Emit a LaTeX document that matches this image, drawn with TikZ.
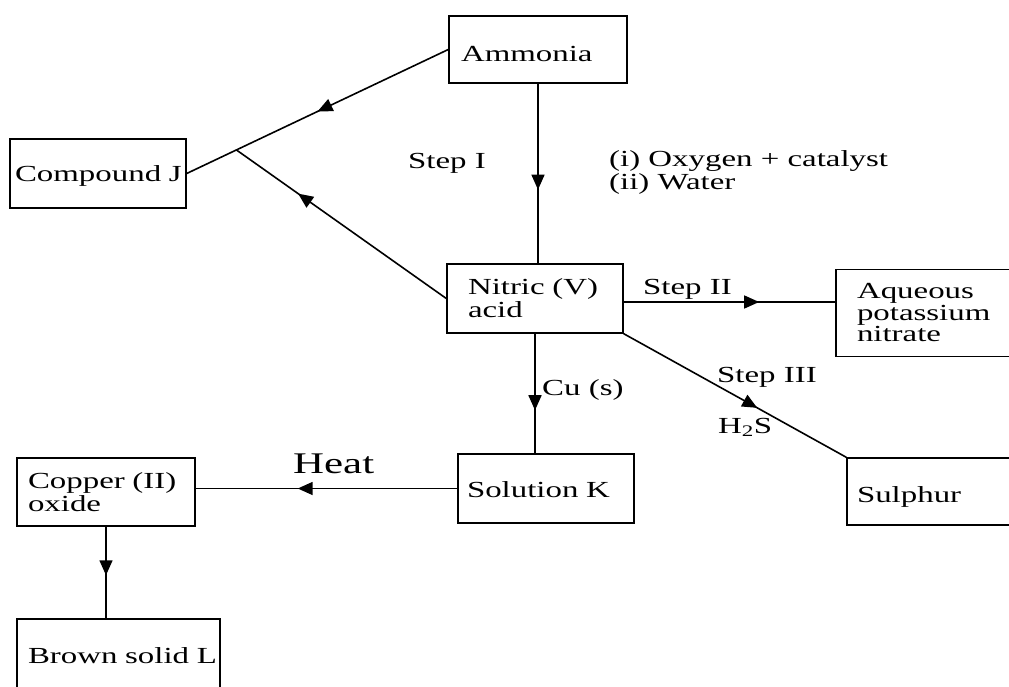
\documentclass[tikz,border=0pt]{standalone}
\usepackage{fontspec}
\setmainfont{Liberation Serif}[FakeStretch=1.43]
\usetikzlibrary{arrows.meta,decorations.markings}
\tikzset{
  box/.style={draw, line width=1.4pt, align=left, inner ysep=0pt},
  lbl/.style={inner sep=0pt},
  flow/.style={line width=1.6pt, postaction={decorate},
    decoration={markings, mark=at position #1 with {\arrow{Triangle[width=13pt,length=15pt]}}}}
}
\begin{document}
\begin{tikzpicture}[x=1pt, y=-1pt, font=\fontsize{23}{23}\selectfont]
\useasboundingbox (0,0) rectangle (1009,687);
% boxes
\node[box, minimum width=178pt, minimum height=67pt, inner xsep=12pt, text width=154pt, text height=30pt, text depth=5pt] (amm) at (538,49.5) {Ammonia};
\node[box, minimum width=176pt, minimum height=69pt, inner xsep=5pt, text width=166pt, text height=22pt, text depth=5pt] (cpdJ) at (98,173.5) {Compound~J};
\node[box, minimum width=176pt, minimum height=69pt, inner xsep=21pt, text width=134pt] (nitric) at (535,298.5) {Nitric (V)\\acid};
\node[box, minimum width=179pt, minimum height=87pt, inner xsep=21pt, text width=137pt, font=\fontsize{23}{21.5}\selectfont] (aqueous) at (925.5,313) {Aqueous\\potassium\\nitrate};
\node[box, minimum width=176pt, minimum height=69pt, inner xsep=9pt, text width=158pt, text height=22pt, text depth=5pt] (solK) at (546,488.5) {Solution~K};
\node[box, minimum width=168pt, minimum height=67pt, inner xsep=10pt, text width=148pt, text height=26pt, text depth=5pt] (sulphur) at (931,491.5) {Sulphur};
\node[box, minimum width=178pt, minimum height=68pt, inner xsep=11pt, text width=156pt] (copper) at (106,492) {Copper (II)\\oxide};
\node[box, minimum width=203pt, minimum height=76pt, inner xsep=11pt, text width=181pt, text height=17pt, text depth=5pt] (brown) at (118.5,657) {Brown~solid~L};
% connectors
\draw[flow=0.59] (amm.south) -- (amm.south |- nitric.north);
\draw[flow=0.5] (amm.west) -- coordinate[pos=0.81] (jn) (cpdJ.east);
\draw[flow=0.706] (nitric.west) -- (jn);
\coordinate (n2) at ([yshift=-3.5pt]nitric.east);
\draw[flow=0.64] (n2) -- (n2 -| aqueous.west);
\draw[flow=0.6] (nitric.south east) -- (sulphur.north west);
\draw[flow=0.64] (nitric.south) -- (nitric.south |- solK.north);
\draw[flow=0.61] (solK.west) -- (solK.west -| copper.east);
\draw[flow=0.53] (copper.south) -- (copper.south |- brown.north);
% labels
\node[lbl, anchor=base west] (stepI) at (408,169) {Step I};
\node[lbl, anchor=west, align=left] (cond) at (609,172) {(i) Oxygen + catalyst\\(ii) Water};
\node[lbl, anchor=base west] (stepII) at (643,294) {Step II};
\node[lbl, anchor=base west] (stepIII) at (717,382) {Step III};
\node[lbl, anchor=base west] (hs) at (718,433) {H\textsubscript{2}S};
\node[lbl, anchor=base west] (cu) at (542,395) {Cu (s)};
\node[lbl, anchor=base west, font=\fontsize{30}{30}\selectfont] (heat) at (293,473) {Heat};
\end{tikzpicture}
\end{document}
